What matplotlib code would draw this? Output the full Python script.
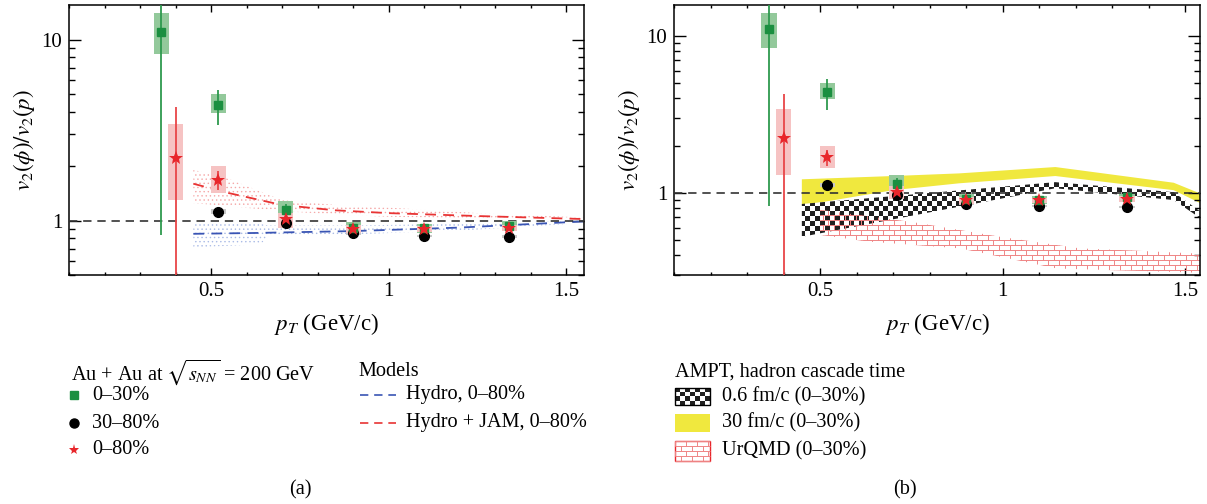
import numpy as np
import matplotlib
matplotlib.use("Agg")
import matplotlib.pyplot as plt
from matplotlib.patches import Polygon, Rectangle
from matplotlib.collections import LineCollection
from matplotlib.ticker import FixedLocator, NullFormatter, LogLocator, MultipleLocator

plt.rcParams['font.family'] = ['Liberation Serif', 'DejaVu Serif']
plt.rcParams['mathtext.fontset'] = 'stix'
plt.rcParams['hatch.linewidth'] = 0.5

# ---- data: v2(phi)/v2(p) vs pT ----
pt_030 = [0.36, 0.52, 0.71, 0.90, 1.10, 1.34]
r_030 = [11.1, 4.37, 1.14, 0.915, 0.905, 0.935]
stat_lo_030 = [0.83, 3.37, 1.05, 0.885, 0.875, 0.905]
stat_hi_030 = [16.0, 5.30, 1.24, 0.945, 0.935, 0.965]
sys_lo_030 = [8.4, 3.93, 1.03, 0.85, 0.85, 0.88]
sys_hi_030 = [14.0, 5.03, 1.29, 0.98, 0.96, 0.99]

pt_3080 = [0.52, 0.71, 0.90, 1.10, 1.34]
r_3080 = [1.12, 0.967, 0.85, 0.823, 0.816]
sys_lo_3080 = [1.085, 0.945, 0.835, 0.81, 0.80]
sys_hi_3080 = [1.155, 0.99, 0.865, 0.836, 0.83]

pt_080 = [0.40, 0.52, 0.71, 0.90, 1.10, 1.34]
r_080 = [2.22, 1.68, 1.02, 0.895, 0.895, 0.915]
stat_lo_080 = [0.3, 1.48, 0.97, 0.875, 0.875, 0.895]
stat_hi_080 = [4.24, 1.87, 1.07, 0.915, 0.915, 0.935]
sys_lo_080 = [1.30, 1.43, 0.91, 0.855, 0.86, 0.88]
sys_hi_080 = [3.44, 2.00, 1.10, 0.94, 0.93, 0.95]

# hydro models (panel a)
hydro_pt = [0.45, 0.64, 0.66, 0.90, 1.20, 1.55]
hydro_c = [0.845, 0.855, 0.857, 0.875, 0.915, 0.99]
hydro_hi = [0.97, 0.96, 0.94, 0.94, 0.96, 1.0]
hydro_lo = [0.71, 0.74, 0.82, 0.84, 0.88, 0.97]

jam_pt = [0.45, 0.55, 0.70, 0.85, 1.00, 1.25, 1.55]
jam_c = [1.60, 1.42, 1.22, 1.14, 1.10, 1.06, 1.02]
jam_hi = [1.91, 1.70, 1.30, 1.22, 1.18, 1.10, 1.04]
jam_lo = [1.25, 1.20, 1.13, 1.08, 1.05, 1.03, 1.01]

# AMPT / UrQMD bands (panel b)
ampt30_pt = [0.45, 0.70, 0.88, 1.144, 1.468, 1.541]
ampt30_hi = [1.22, 1.28, 1.33, 1.46, 1.16, 0.99]
ampt30_lo = [0.83, 1.04, 1.15, 1.28, 1.04, 0.86]

ampt06_pt = [0.45, 1.144, 1.468, 1.541]
ampt06_hi = [0.85, 1.17, 1.01, 0.76]
ampt06_lo = [0.525, 1.07, 0.90, 0.69]

urqmd_pt_hi = [0.50, 0.756, 0.993, 1.212, 1.34, 1.541]
urqmd_hi = [0.78, 0.65, 0.525, 0.443, 0.431, 0.41]
urqmd_pt_lo = [0.50, 0.63, 0.884, 1.148, 1.541]
urqmd_lo = [0.54, 0.49, 0.443, 0.33, 0.31]

GREEN = '#1b8f40'
GREEN_BOX = '#93c99b'
GREEN_LINE = '#2e9a4e'
RED = '#e8262b'
RED_BOX = '#f6c3c3'
RED_LINE = '#e84548'
GREY_BOX = '#c8c8c8'
HALF_W = 0.021

W, H = 1207, 504
fig = plt.figure(figsize=(W / 100, H / 100), dpi=100)
ax1 = fig.add_axes([69 / W, 1 - 275 / H, (584 - 69) / W, 270 / H])
ax2 = fig.add_axes([674 / W, 1 - 275 / H, (1200 - 674) / W, 270 / H])


def sys_boxes(ax, xs, lo, hi, color):
    for x, l, h in zip(xs, lo, hi):
        ax.add_patch(Rectangle((x - HALF_W, l), 2 * HALF_W, h - l,
                               facecolor=color, edgecolor='none', zorder=4))


def draw_data(ax):
    sys_boxes(ax, pt_3080, sys_lo_3080, sys_hi_3080, GREY_BOX)
    sys_boxes(ax, pt_030, sys_lo_030, sys_hi_030, GREEN_BOX)
    sys_boxes(ax, pt_080, sys_lo_080, sys_hi_080, RED_BOX)
    ax.vlines(pt_030, stat_lo_030, stat_hi_030, color=GREEN_LINE, lw=1.3, zorder=5)
    ax.vlines(pt_080, stat_lo_080, stat_hi_080, color=RED_LINE, lw=1.3, zorder=5)
    ax.plot(pt_3080, r_3080, 'o', color='black', ms=7, zorder=6)
    ax.plot(pt_030, r_030, 's', color=GREEN, ms=6, zorder=7)
    ax.plot(pt_080, r_080, '*', color=RED, ms=10.5, mew=0, zorder=8)
    ax.axhline(1.0, color='#333333', lw=1.2, ls=(0, (5, 3.5)), zorder=3)


def style_axes(ax, xmax, ymin, ymax):
    ax.set_yscale('log')
    ax.set_xlim(0.1, xmax)
    ax.set_ylim(ymin, ymax)
    ax.yaxis.set_major_locator(FixedLocator([1, 10]))
    ax.set_yticklabels(['1', '10'])
    ax.yaxis.set_minor_locator(LogLocator(base=10, subs=np.arange(2, 10)))
    ax.yaxis.set_minor_formatter(NullFormatter())
    ax.xaxis.set_major_locator(FixedLocator([0.5, 1.0, 1.5]))
    ax.set_xticklabels(['0.5', '1', '1.5'])
    ax.xaxis.set_minor_locator(MultipleLocator(0.1))
    ax.tick_params(which='both', direction='in', top=True, right=True,
                   labelsize=15, width=1.0)
    ax.tick_params(axis='y', which='major', length=8.5, pad=5)
    ax.tick_params(axis='y', which='minor', length=4.3)
    ax.tick_params(axis='x', which='major', length=5, pad=5)
    ax.tick_params(axis='x', which='minor', length=2.5)
    for s in ax.spines.values():
        s.set_linewidth(1.1)
    ax.set_xlabel(r'$p_T$ (GeV/c)', fontsize=16.5, labelpad=7)
    ax.set_ylabel(r'$v_2(\phi)/v_2(p)$', fontsize=16.5, labelpad=3)


# ---- panel (a) ----
ax1.fill_between(hydro_pt, hydro_lo, hydro_hi, facecolor='none',
                 edgecolor='#aabbe6', hatch='....', lw=0, zorder=1)
ax1.fill_between(jam_pt, jam_lo, jam_hi, facecolor='none',
                 edgecolor='#f5a8a8', hatch='....', lw=0, zorder=1)
ax1.plot(hydro_pt, hydro_c, color='#3a55b4', lw=1.3, ls=(0, (6, 4)), zorder=2)
ax1.plot(jam_pt, jam_c, color='#e83434', lw=1.3, ls=(0, (6, 4)), zorder=2)
draw_data(ax1)
style_axes(ax1, 1.55, 0.5, 15.6)

# ---- panel (b) ----
ax2.fill_between(ampt30_pt, ampt30_lo, ampt30_hi, facecolor='#f0e83e',
                 edgecolor='none', zorder=1)

poly06 = Polygon(np.column_stack([ampt06_pt + ampt06_pt[::-1],
                                  ampt06_hi + ampt06_lo[::-1]]),
                 closed=True, facecolor='none', edgecolor='none',
                 transform=ax2.transData)
ax2.add_patch(poly06)
nx, ny = 108, 55
checker = (np.add.outer(np.arange(ny), np.arange(nx)) % 2).astype(float)
im = ax2.imshow(checker, cmap='gray', extent=[0, 1, 0, 1], transform=ax2.transAxes,
                interpolation='nearest', aspect='auto', zorder=2, vmin=-0.15, vmax=1)
im.set_clip_path(poly06)

polyu = Polygon(np.column_stack([urqmd_pt_hi + urqmd_pt_lo[::-1],
                                 urqmd_hi + urqmd_lo[::-1]]),
                closed=True, facecolor='none', edgecolor='none',
                transform=ax2.transData)
ax2.add_patch(polyu)
aw, ah = 526.0, 270.0
segs = []
row_h, brick_w = 5.0, 11.0
nrows = int(ah / row_h) + 1
for k in range(nrows + 1):
    y0 = k * row_h / ah
    segs.append([(0, y0), (1, y0)])
    if k < nrows:
        y1 = (k + 1) * row_h / ah
        off = (k % 2) * brick_w / 2
        xs = np.arange(off, aw + brick_w, brick_w) / aw
        for xv in xs:
            segs.append([(xv, y0), (xv, y1)])
bricks = LineCollection(segs, colors='#ef8585', linewidths=0.7,
                        transform=ax2.transAxes, zorder=2.5)
ax2.add_collection(bricks)
bricks.set_clip_path(polyu)

draw_data(ax2)
style_axes(ax2, 1.54, 0.3, 15.7)

# ---- legends (pixel coordinates on an overlay) ----
lax = fig.add_axes([0, 0, 1, 1])
lax.axis('off')
fs = 14.6

lax.text(71, 372, r'Au + Au at $\sqrt{s_{NN}}$ = 200 GeV', fontsize=fs, va='center')
lax.plot([74], [395], 's', color=GREEN, ms=5.5)
lax.text(92, 395, '0–30%', fontsize=fs, va='center')
lax.plot([74], [423], 'o', color='black', ms=6.5)
lax.text(92, 423, '30–80%', fontsize=fs, va='center')
lax.plot([74], [450], '*', color=RED, ms=8, mew=0)
lax.text(92, 450, '0–80%', fontsize=fs, va='center')

lax.text(358, 372, 'Models', fontsize=fs, va='center')
lax.plot([360, 396], [395, 395], color='#3a55b4', lw=1.2, ls=(0, (5, 3.5)))
lax.text(406, 395, 'Hydro, 0–80%', fontsize=fs, va='center')
lax.plot([360, 396], [423, 423], color='#e83434', lw=1.2, ls=(0, (5, 3.5)))
lax.text(406, 423, 'Hydro + JAM, 0–80%', fontsize=fs, va='center')

lax.text(675, 372, 'AMPT, hadron cascade time', fontsize=fs, va='center')
leg_checker = (np.add.outer(np.arange(4), np.arange(7)) % 2).astype(float)
lax.imshow(leg_checker, cmap='gray', extent=[675, 710, 405, 388],
           interpolation='nearest', aspect='auto', vmin=-0.15, vmax=1)
lax.add_patch(Rectangle((675, 388), 35, 17, facecolor='none', edgecolor='black', lw=1))
lax.text(722, 397, '0.6 fm/c (0–30%)', fontsize=fs, va='center')
lax.add_patch(Rectangle((675, 414), 35, 18, facecolor='#f0e83e', edgecolor='none'))
lax.text(722, 423, '30 fm/c (0–30%)', fontsize=fs, va='center')
leg_segs = []
for k in range(5):
    yv = 441 + k * 5
    leg_segs.append([(675, yv), (710, yv)])
    if k < 4:
        off = (k % 2) * 5.5
        for xv in np.arange(675 + off, 710, 11):
            leg_segs.append([(xv, yv), (xv, yv + 5)])
lax.add_collection(LineCollection(leg_segs, colors='#ef8585', linewidths=0.7))
lax.add_patch(Rectangle((675, 441), 35, 20, facecolor='none', edgecolor='#e8262b', lw=1))
lax.text(722, 451, 'UrQMD (0–30%)', fontsize=fs, va='center')

lax.text(300, 490, '(a)', fontsize=fs, ha='center', va='center')
lax.text(905, 490, '(b)', fontsize=fs, ha='center', va='center')
lax.set_xlim(0, W)
lax.set_ylim(H, 0)

fig.savefig('out.png', dpi=100)
